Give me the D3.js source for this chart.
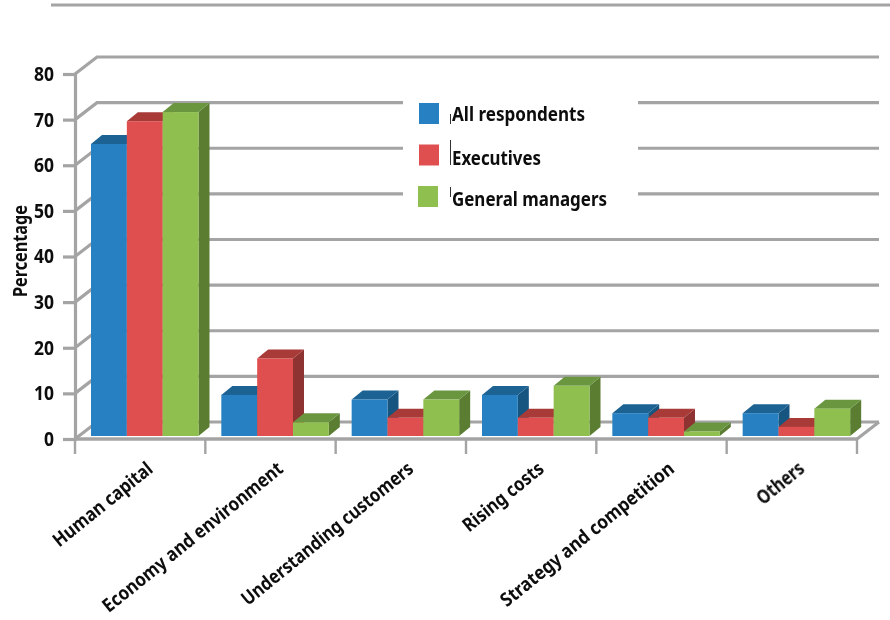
<!DOCTYPE html>
<html><head><meta charset="utf-8">
<script src="https://cdn.jsdelivr.net/npm/d3@7"></script>
<style>html,body{margin:0;background:#fff}svg{display:block}
text{font-family:"Noto Sans","Open Sans",sans-serif;font-weight:700;fill:#0a0a0a}</style></head>
<body><div id="c"></div>
<script>
const categories=["Human capital","Economy and environment","Understanding customers","Rising costs","Strategy and competition","Others"];
const seriesNames=["All respondents","Executives","General managers"];
const allRespondents=[64,9,8,9,5,5];
const executives=[69,17,4,4,4,2];
const generalManagers=[71,3,8,11,1,6];
const yTicks=[0,10,20,30,40,50,60,70,80];
const colors=["#2680c2","#e05050","#8fbf50"];
const topColors=["#1c6394","#a83a38","#6a9640"];
const sideColors=["#175480","#8f3030","#5a7d33"];
const values=[allRespondents,executives,generalManagers];

const W=890,H=620;
const svg=d3.select("#c").append("svg").attr("width",W).attr("height",H);
const defs=svg.append("defs");
defs.append("filter").attr("id","soft").attr("x","-5%").attr("y","-5%").attr("width","110%").attr("height","110%")
  .append("feGaussianBlur").attr("stdDeviation",0.5);
const g=svg.append("g").attr("filter","url(#soft)");

const x=d3.scaleBand().domain(categories).range([75,857]);
const xInner=d3.scaleBand().domain(seriesNames).range([16,123.5]);
const y=d3.scaleLinear().domain([0,80]).range([439,74]);
const DX=22,DY=-17,GRID="#a4a4a4",SW=3.2;

// top rule
g.append("line").attr("x1",51).attr("x2",890).attr("y1",5).attr("y2",5).attr("stroke",GRID).attr("stroke-width",SW);

// back wall gridlines + side wall diagonals
const gridG=g.append("g").attr("fill","none").attr("stroke",GRID).attr("stroke-width",SW);
gridG.selectAll("path.g").data(yTicks).join("path").attr("class","g")
  .attr("d",v=>`M${x.range()[0]},${y(v)}L${x.range()[0]+DX},${y(v)+DY}L${x.range()[1]+DX},${y(v)+DY}`);
// floor
gridG.append("path").attr("d",`M${x.range()[1]},${y(0)}L${x.range()[1]+DX},${y(0)+DY}`);

// legend backdrop masks the wall lines
g.append("rect").attr("x",403).attr("y",92).attr("width",235).attr("height",120).attr("fill","#fff");

// bars
const baseY=y(0)-3, depthX=11, depthY=-9;
const groups=g.selectAll("g.cat").data(categories).join("g").attr("class","cat");
groups.each(function(cat,ci){
  const grp=d3.select(this);
  seriesNames.forEach((s,si)=>{
    const x0=x(cat)+xInner(s), w=xInner.bandwidth(), top=baseY-(y(0)-y(values[si][ci]));
    grp.append("path").attr("fill",sideColors[si])
      .attr("d",`M${x0+w},${top}L${x0+w+depthX},${top+depthY}L${x0+w+depthX},${baseY+depthY}L${x0+w},${baseY}Z`);
    grp.append("path").attr("fill",topColors[si])
      .attr("d",`M${x0},${top}L${x0+depthX},${top+depthY}L${x0+w+depthX},${top+depthY}L${x0+w},${top}Z`);
    grp.append("rect").attr("x",x0).attr("y",top).attr("width",w).attr("height",baseY-top).attr("fill",colors[si]);
  });
});

// y axis
const yAxis=d3.axisLeft(y).tickValues(yTicks).tickSize(12).tickPadding(9);
const ya=g.append("g").attr("transform","translate(75,0)").call(yAxis);
ya.select(".domain").attr("stroke",GRID).attr("stroke-width",SW);
ya.selectAll(".tick line").attr("stroke",GRID).attr("stroke-width",SW);
ya.selectAll(".tick text").attr("font-size",20).style("font-family",'"Noto Sans"').attr("textLength",20).attr("lengthAdjust","spacingAndGlyphs").style("fill","#0a0a0a").style("font-weight",700);
ya.selectAll(".tick").filter(d=>d===0).select("text").attr("textLength",10);

// x axis baseline and band-edge ticks
const edges=categories.map(c=>x(c)).concat([x.range()[1]]);
g.append("line").attr("x1",75).attr("x2",857).attr("y1",y(0)).attr("y2",y(0)).attr("stroke",GRID).attr("stroke-width",3.6);
g.selectAll("line.et").data(edges).join("line").attr("class","et")
  .attr("x1",d=>d).attr("x2",d=>d).attr("y1",y(0)).attr("y2",454).attr("stroke",GRID).attr("stroke-width",2.4);

// x labels
const labelLen=[122,226,215,98,217,55];
g.selectAll("text.xl").data(categories).join("text").attr("class","xl")
  .attr("transform",d=>`translate(${x(d)+x.bandwidth()/2+14},471) rotate(-39)`)
  .attr("text-anchor","end").attr("font-size",19)
  .attr("textLength",(d,i)=>labelLen[i]).attr("lengthAdjust","spacingAndGlyphs").text(d=>d);

// y title
g.append("text").attr("transform","translate(27,251) rotate(-90)").attr("text-anchor","middle")
  .attr("font-size",19).attr("textLength",92).attr("lengthAdjust","spacingAndGlyphs").text("Percentage");

// legend
const legY=d3.scalePoint().domain(seriesNames).range([114,197]);
const leg=g.selectAll("g.l").data(seriesNames).join("g").attr("class","l");
leg.append("rect").attr("x",(d,i)=>i==2?418:419).attr("y",d=>legY(d)-11).attr("width",20).attr("height",21).attr("fill",(d,i)=>colors[i]);
const legLen=[133,89,155];
leg.append("text").attr("x",452).attr("y",(d,i)=>legY(d)+7+(i==0?0:2)).attr("font-size",20)
  .attr("textLength",(d,i)=>legLen[i]).attr("lengthAdjust","spacingAndGlyphs").text(d=>d);
// thin cursor marks beside the legend text
leg.append("line").attr("x1",450.5).attr("x2",450.5).attr("y1",(d,i)=>[114,140,187][i]).attr("y2",(d,i)=>[124,165,197][i]).attr("stroke","#333").attr("stroke-width",1);
</script></body></html>
